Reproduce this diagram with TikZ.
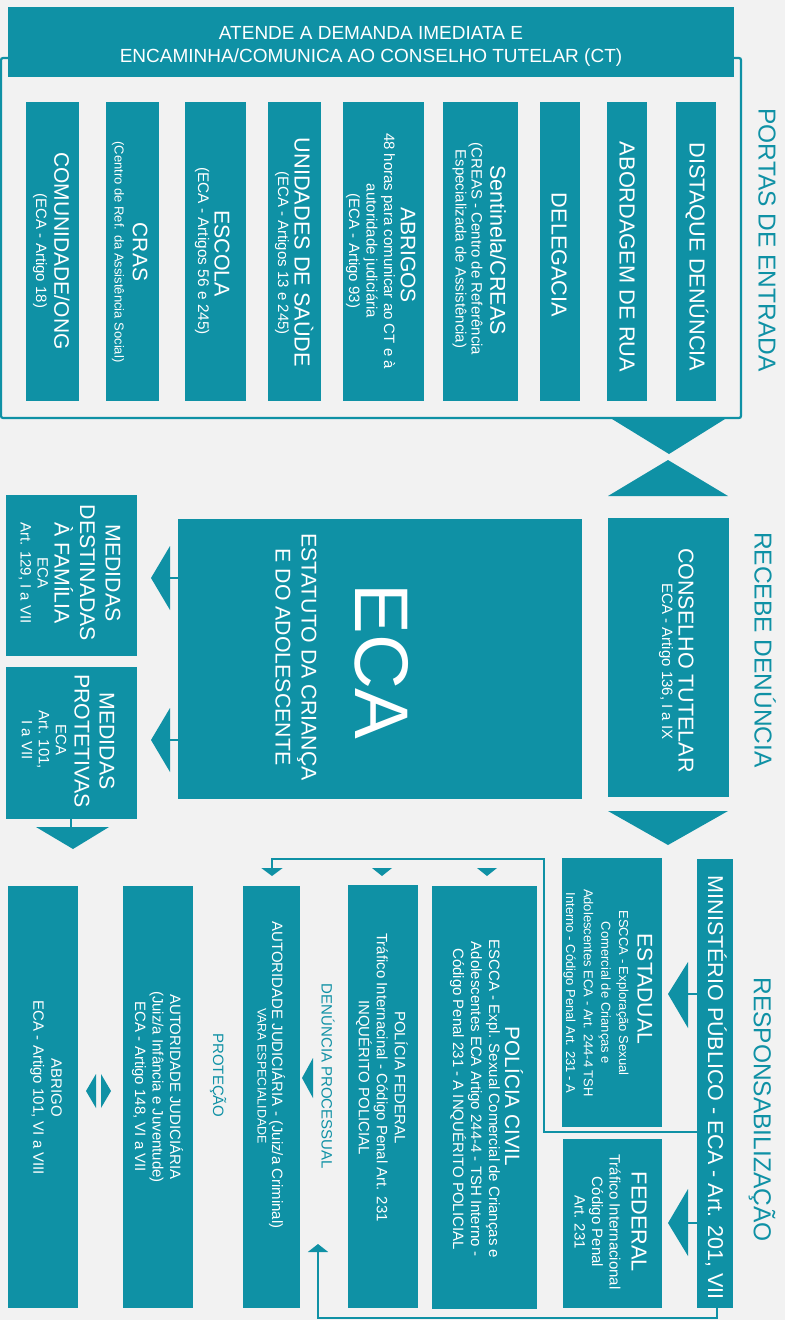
\documentclass[tikz,border=0pt]{standalone}
\usepackage{fontspec}
\setmainfont{Liberation Sans}
\usetikzlibrary{fit,arrows.meta}
\definecolor{tl}{HTML}{0F91A5}
\definecolor{bg}{HTML}{F2F2F2}
\newcommand\fz[2]{\fontsize{#1}{#2}\selectfont}
\begin{document}
\begin{tikzpicture}[x=1pt,y=-1pt,
  bx/.style={fill=tl, draw=none, inner sep=0pt, outer sep=0pt},
  tt/.style={text=white, rotate=-90, align=center, inner sep=0pt, outer sep=0pt},
  side/.style={text=tl, rotate=-90, inner sep=0pt, font=\fz{24.5}{28}},
  lab/.style={text=tl, rotate=-90, inner sep=0pt, font=\fz{15}{18}},
  conn/.style={draw=tl, line width=2.5pt},
  frm/.style={draw=tl, line width=2.2pt, rounded corners=2pt},
  tri/.style={fill=tl, draw=none}]
\useasboundingbox (0,0) rectangle (785,1320);
\fill[bg] (0,0) rectangle (785,1320);

% ---------- PORTAS DE ENTRADA ----------
\draw[frm] (1,58) rectangle (741,418);
\node[bx, fit={(8,7) (734,77)}] (top) {};
\node[text=white, align=center, inner sep=0pt, font=\fz{19}{23}] (toptxt) at (371,46)
  {ATENDE A DEMANDA IMEDIATA E\\ENCAMINHA/COMUNICA AO CONSELHO TUTELAR (CT)};

\node[bx, fit={(26,102) (79,401)}] (comu) {};
\node[tt, font=\fz{21}{25}] (comu-t) at (62,251) {COMUNIDADE/ONG};
\node[tt, font=\fz{15}{18}] (comu-s) at (40,251) {(ECA - Artigo 18)};

\node[bx, fit={(106,102) (159,401)}] (cras) {};
\node[tt, font=\fz{21}{25}] (cras-t) at (140,252) {CRAS};
\node[tt, font=\fz{13}{16}] (cras-s) at (118,252) {(Centro de Ref. da Assistência Social)};

\node[bx, fit={(185,102) (246,401)}] (esc) {};
\node[tt, font=\fz{21.4}{25}] (esc-t) at (222,253.5) {ESCOLA};
\node[tt, font=\fz{15.4}{18}] (esc-s) at (202,251) {(ECA - Artigos 56 e 245)};

\node[bx, fit={(268,102) (321,401)}] (uni) {};
\node[tt, font=\fz{21.7}{25}] (uni-t) at (304,252.5) {UNIDADES DE SAÙDE};
\node[tt, font=\fz{15}{18}] (uni-s) at (282,253) {(ECA - Artigos 13 e 245)};

\node[bx, fit={(343,102) (424,401)}] (abr) {};
\node[tt, font=\fz{21}{25}] (abr-t) at (408,255) {ABRIGOS};
\node[tt, font=\fz{15}{17.5}] (abr-s) at (370.5,251) {48 horas para comunicar ao CT e à\\autoridade judiciária\\(ECA - Artigo 93)};

\node[bx, fit={(443,102) (518,401)}] (sent) {};
\node[tt, font=\fz{21.5}{25}] (sent-t) at (498,250) {Sentinela/CREAS};
\node[tt, font=\fz{15}{16}] (sent-s) at (467.5,249) {(CREAS - Centro de Referência\\Especializada de Assistência)};

\node[bx, fit={(540,102) (580,401)}] (deleg) {};
\node[tt, font=\fz{21.7}{25}] (deleg-t) at (559,255) {DELEGACIA};

\node[bx, fit={(607,102) (647,401)}] (abord) {};
\node[tt, font=\fz{21.8}{25}] (abord-t) at (627,257) {ABORDAGEM DE RUA};

\node[bx, fit={(676,102) (716,401)}] (dist) {};
\node[tt, font=\fz{21.7}{25}] (dist-t) at (697,257) {DISTAQUE DENÚNCIA};

\node[side] (portas) at (767,240) {PORTAS DE ENTRADA};

% ---------- RECEBE DENUNCIA ----------
\fill[tri] (612,419) -- (725,419) -- (669,454) -- cycle;
\fill[tri] (608,496) -- (728,496) -- (668,460) -- cycle;

\node[bx, fit={(608,518) (729,797)}] (ct) {};
\node[tt, font=\fz{21.5}{25}] (ct-t) at (686,660.5) {CONSELHO TUTELAR};
\node[tt, font=\fz{15}{18}] (ct-s) at (666,661.5) {ECA - Artigo 136, I a IX};
\node[side] (recebe) at (765,650) {RECEBE DENÚNCIA};

\fill[tri] (608,811) -- (728,811) -- (668,845) -- cycle;

\node[bx, fit={(178,519) (582,799)}] (eca) {};
\node[tt, font=\fz{76}{80}] (eca-t) at (381.5,661.5) {ECA};
\node[tt, font=\fz{21.3}{26}] (eca-s) at (296,657) {ESTATUTO DA CRIANÇA\\E DO ADOLESCENTE};

\node[bx, fit={(6,495) (137,656)}] (mdf) {};
\node[tt, font=\fz{21.3}{25.5}] (mdf-t) at (87.5,573) {MEDIDAS\\DESTINADAS\\À FAMÍLIA};
\node[tt, font=\fz{15}{17}] (mdf-s) at (33.5,573) {ECA\\Art. 129, I a VII};

\node[bx, fit={(6,667) (137,819)}] (mpr) {};
\node[tt, font=\fz{21.3}{25}] (mpr-t) at (94.5,741) {MEDIDAS\\PROTETIVAS};
\node[tt, font=\fz{15}{17}] (mpr-s) at (44,740) {ECA\\Art. 101,\\I a VII};

\coordinate (e1) at (170,578);
\coordinate (e2) at (170,740);
\draw[conn, line width=2pt] (eca.west |- e1) -- (e1);
\fill[tri] (170,546) -- (170,610) -- (151,578) -- cycle;
\draw[conn, line width=2pt] (eca.west |- e2) -- (e2);
\fill[tri] (170,708) -- (170,772) -- (151,740) -- cycle;

\coordinate (m1) at (71,827);
\draw[conn, line width=2pt] (mpr.south -| m1) -- (m1);
\fill[tri] (36,827) -- (109,827) -- (73,849) -- cycle;

% ---------- RESPONSABILIZACAO ----------
\node[bx, fit={(697,859) (733,1308)}] (mp) {};
\node[tt, font=\fz{21.5}{25}] (mp-t) at (716,1087.5) {MINISTÉRIO PÚBLICO - ECA - Art. 201, VII};

\node[bx, fit={(562,858) (662,1127)}] (estad) {};
\node[tt, font=\fz{21.2}{25}] (estad-t) at (645,989) {ESTADUAL};
\node[tt, font=\fz{13}{17.7}] (estad-s) at (596,993) {ESCCA - Exploração Sexual\\Comercial de Crianças e\\Adolescentes ECA - Art. 244-4 TSH\\Interno - Código Penal Art. 231 - A};

\node[bx, fit={(563,1139) (662,1308)}] (feder) {};
\node[tt, font=\fz{21.7}{25}] (feder-t) at (639,1222) {FEDERAL};
\node[tt, font=\fz{15}{17.5}] (feder-s) at (597.5,1222) {Tráfico Internacional\\Código Penal\\Art. 231};

\coordinate (s1) at (688,994);
\coordinate (s2) at (688,1223);
\draw[conn, line width=2pt] (mp.west |- s1) -- (s1);
\fill[tri] (688,962) -- (688,1028) -- (668,994) -- cycle;
\draw[conn, line width=2pt] (mp.west |- s2) -- (s2);
\fill[tri] (688,1189) -- (688,1256) -- (668,1223) -- cycle;

\node[side] (resp) at (762,1109.5) {RESPONSABILIZAÇÃO};

\node[bx, fit={(432,886) (537,1309)}] (polciv) {};
\node[tt, font=\fz{20.7}{25}] (polciv-t) at (514,1096.5) {POLÍCIA CIVIL};
\node[tt, font=\fz{15}{18}] (polciv-s) at (475,1099) {ESCCA - Expl. Sexual Comercial de Crianças e\\Adolescentes ECA Artigo 244-4 - TSH Interno -\\Código Penal 231 - A INQUÉRITO POLICIAL};

\node[bx, fit={(348,885) (418,1308)}] (polfed) {};
\node[tt, font=\fz{15}{18}] (polfed-t) at (382,1077.5) {POLÍCIA FEDERAL\\Tráfico Internacinal - Código Penal Art. 231\\INQUÉRITO POLICIAL};

\node[bx, fit={(243,886) (300,1308)}] (autj2) {};
\node[tt, font=\fz{15}{18}] (autj2-t) at (277,1075) {AUTORIDADE JUDICIÁRIA - (Juiz/a Criminal)};
\node[tt, font=\fz{12.5}{15}] (autj2-s) at (262,1076) {VARA ESPECIALIDADE};

\node[lab] (denproc) at (328,1076.5) {DENÚNCIA PROCESSUAL};
\fill[tri] (313,1058) -- (313,1098) -- (302,1078) -- cycle;

\node[bx, fit={(123,886) (193,1308)}] (autj1) {};
\node[tt, font=\fz{15}{17.5}] (autj1-t) at (157.5,1087) {AUTORIDADE JUDICIÁRIA\\(Juiz/a Infância e Juventude)\\ECA - Artigo 148, VI a VII};

\node[lab] (protecao) at (218,1075.5) {PROTEÇÃO};

\node[bx, fit={(8,886) (78,1308)}] (abrigo) {};
\node[tt, font=\fz{15}{18}] (abrigo-t) at (46,1088) {ABRIGO\\ECA - Artigo 101, VI a VIII};

\fill[tri] (96,1074) -- (96,1108) -- (86,1091) -- cycle;
\fill[tri] (101,1074) -- (101,1108) -- (111,1091) -- cycle;

% connectors from MP
\coordinate (j1) at (544,1132);
\coordinate (j2) at (544,859);
\coordinate (j3) at (272,859);
\coordinate (j4) at (272,876);
\draw[conn, -{Triangle[width=21pt,length=8pt]}] (j1 -| mp.west) -- (j1) -- (j2) -- (j3) -- (j4);
\fill[tri] (372,868) -- (392,868) -- (382,876) -- cycle;
\fill[tri] (477,868) -- (497,868) -- (487,876) -- cycle;

\coordinate (b1) at (717,1318);
\coordinate (b2) at (318,1244);
\draw[conn, -{Triangle[width=20pt,length=8pt]}] (mp.south -| b1) -- (b1) -| (b2);
\end{tikzpicture}
\end{document}
